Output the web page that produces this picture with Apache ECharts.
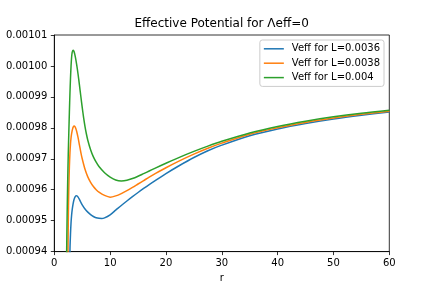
<!DOCTYPE html>
<html>
<head>
<meta charset="utf-8">
<script src="https://cdn.jsdelivr.net/npm/echarts@6/dist/echarts.min.js"></script>
<style>
html,body{margin:0;padding:0;background:#fff;}
#c{width:432px;height:288px;}
</style>
</head>
<body>
<div id="c"></div>
<script>
// ---- data ----
const seriesNames = ['Veff for L=0.0036', 'Veff for L=0.0038', 'Veff for L=0.004'];
const seriesColors = ['#1f77b4', '#ff7f0e', '#2ca02c'];

const rBlue = [2.65, 2.8, 2.9, 3.0, 3.1, 3.2, 3.35, 3.5, 3.7, 3.9, 4.05, 4.2, 4.5, 4.75, 5.0, 5.5, 6.0, 6.5, 7.0, 7.5, 8.0, 8.5, 9, 10, 11, 12, 13, 14, 15, 16, 17, 18, 20, 22.5, 25, 27.5, 30, 35, 40, 45, 50, 55, 60];
const vBlue = [0.000900, 0.000940, 0.0009456, 0.0009494, 0.0009518, 0.0009535, 0.0009553, 0.0009566, 0.0009576, 0.00095805, 0.000958, 0.00095775, 0.00095685, 0.00095595, 0.0009551, 0.00095375, 0.00095275, 0.00095195, 0.00095135, 0.00095095, 0.00095075, 0.0009507, 0.0009509, 0.0009519, 0.0009534, 0.0009549, 0.00095635, 0.00095775, 0.0009591, 0.0009604, 0.00096165, 0.00096285, 0.0009652, 0.0009679, 0.0009704, 0.0009726, 0.0009744, 0.00097745, 0.00097965, 0.0009814, 0.00098285, 0.00098405, 0.0009851];

const rOrange = [2.3, 2.4, 2.5, 2.6, 2.7, 2.8, 2.9, 3.0, 3.1, 3.2, 3.3, 3.4, 3.55, 3.7, 3.85, 4.0, 4.25, 4.5, 4.75, 5.0, 5.5, 6.0, 6.5, 7.0, 7.5, 8.0, 9.0, 10, 11, 12, 13, 14, 15, 16, 17, 18, 20, 22.5, 25, 27.5, 30, 35, 40, 45, 50, 55, 60];
const vOrange = [0.000895, 0.000928, 0.000949, 0.0009605, 0.0009673, 0.0009718, 0.0009748, 0.0009768, 0.0009781, 0.0009791, 0.0009798, 0.0009803, 0.0009806, 0.0009804, 0.0009798, 0.0009789, 0.0009769, 0.0009745, 0.0009721, 0.00097, 0.0009666, 0.00096415, 0.0009624, 0.00096105, 0.00096, 0.0009592, 0.00095815, 0.0009576, 0.000958, 0.00095875, 0.0009597, 0.00096075, 0.00096185, 0.00096295, 0.00096405, 0.0009651, 0.0009671, 0.0009694, 0.0009715, 0.0009734, 0.00097505, 0.00097795, 0.00098005, 0.00098175, 0.00098315, 0.00098435, 0.00098535];

const rGreen = [2.05, 2.2, 2.3, 2.4, 2.5, 2.6, 2.7, 2.8, 2.9, 3.0, 3.1, 3.2, 3.35, 3.5, 3.65, 3.8, 4.0, 4.25, 4.5, 4.75, 5.0, 5.25, 5.5, 5.75, 6.0, 6.5, 7.0, 7.5, 8.0, 9.0, 10, 11, 12, 13, 14, 15, 16, 17, 18, 20, 22.5, 25, 27.5, 30, 35, 40, 45, 50, 55, 60];
const vGreen = [0.000900, 0.000938, 0.000952, 0.000963, 0.0009715, 0.0009785, 0.000985, 0.000991, 0.000996, 0.001, 0.0010028, 0.0010044, 0.0010051, 0.0010048, 0.0010039, 0.0010026, 0.0010005, 0.0009974, 0.0009939, 0.0009902, 0.0009866, 0.0009833, 0.0009804, 0.000978, 0.000976, 0.0009729, 0.0009706, 0.0009689, 0.0009675, 0.0009655, 0.0009641, 0.00096315, 0.00096285, 0.00096305, 0.0009636, 0.00096435, 0.0009652, 0.00096605, 0.0009669, 0.00096855, 0.00097055, 0.0009724, 0.0009741, 0.00097565, 0.00097835, 0.00098045, 0.00098215, 0.00098355, 0.0009847, 0.00098565];

const xTicks = [0, 10, 20, 30, 40, 50, 60];
const yTicks = [0.00094, 0.00095, 0.00096, 0.00097, 0.00098, 0.00099, 0.00100, 0.00101];

const titleText = 'Effective Potential for Λeff=0';
const xName = 'r';

// ---- chart ----
function pairs(rs, vs) { return rs.map((r, i) => [r, vs[i]]); }
const allData = [pairs(rBlue, vBlue), pairs(rOrange, vOrange), pairs(rGreen, vGreen)];

const FONT = 'DejaVu Sans';
const chart = echarts.init(document.getElementById('c'), null, {renderer: 'canvas'});
chart.setOption({
  animation: false,
  backgroundColor: '#ffffff',
  textStyle: {fontFamily: FONT},
  title: {
    text: titleText,
    left: 221.7, top: 17.5, padding: 0,
    textAlign: 'center',
    textStyle: {fontFamily: FONT, fontSize: 12, fontWeight: 'normal', color: '#000'}
  },
  grid: {
    left: 54.3, right: 432 - 389.3, top: 35, bottom: 288 - 252.7,
    show: true, borderColor: '#000', borderWidth: 0.8, backgroundColor: 'transparent'
  },
  legend: {
    data: seriesNames,
    orient: 'vertical',
    right: 48, top: 40,
    padding: [1.6, 4, 1.6, 4],
    itemGap: 0,
    itemWidth: 20, itemHeight: 1.5,
    icon: 'rect',
    backgroundColor: 'rgba(255,255,255,0.8)',
    borderColor: '#cccccc', borderWidth: 1, borderRadius: 2.5,
    textStyle: {fontFamily: FONT, fontSize: 10, color: '#000', lineHeight: 14.4, padding: [0, 0, 0, 3]}
  },
  xAxis: {
    type: 'value', min: xTicks[0], max: xTicks[xTicks.length - 1], interval: 10,
    name: xName, nameLocation: 'middle', nameGap: 18.5,
    nameTextStyle: {fontFamily: FONT, fontSize: 10, color: '#000'},
    axisLine: {show: true, onZero: false, lineStyle: {color: '#000', width: 0.8}},
    axisTick: {show: true, inside: false, length: 3.5, lineStyle: {color: '#000', width: 0.8}},
    axisLabel: {margin: 6.5, fontFamily: FONT, fontSize: 10, color: '#000'},
    splitLine: {show: false}
  },
  yAxis: {
    type: 'value', min: yTicks[0], max: yTicks[yTicks.length - 1], interval: 0.00001,
    axisLine: {show: true, onZero: false, lineStyle: {color: '#000', width: 0.8}},
    axisTick: {show: true, inside: false, length: 3.5, lineStyle: {color: '#000', width: 0.8}},
    axisLabel: {margin: 7, fontFamily: FONT, fontSize: 10, color: '#000',
      formatter: v => Number(v).toFixed(5)},
    splitLine: {show: false}
  },
  series: seriesNames.map((n, i) => ({
    name: n, type: 'line', data: allData[i],
    smooth: 0.3, symbol: 'none', clip: true,
    lineStyle: {color: seriesColors[i], width: 1.5},
    itemStyle: {color: seriesColors[i]}
  }))
});
</script>
</body>
</html>
